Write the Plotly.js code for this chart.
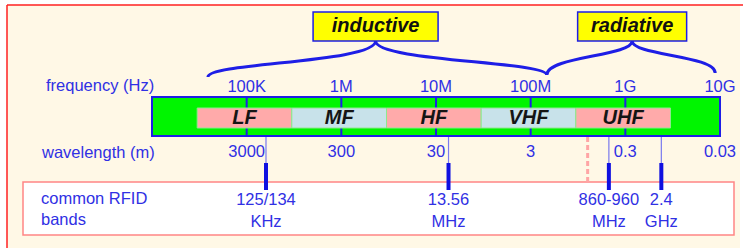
<!DOCTYPE html>
<html><head><meta charset="utf-8">
<script src="https://cdn.plot.ly/plotly-3.0.1.min.js"></script>
<style>html,body{margin:0;padding:0;background:#fff}#chart{width:743px;height:248px}</style>
</head><body><div id="chart"></div>
<script>
// ---- data ----
const freqTickHz = [1e5, 1e6, 1e7, 1e8, 1e9, 1e10];
const freqTickLabels = ['100K', '1M', '10M', '100M', '1G', '10G'];
const wavelengthLabels = ['3000', '300', '30', '3', '0.3', '0.03'];
const spectrumStartHz = 1e4;
const spectrumEndHz = 1e10;
const bandNames = ['LF', 'MF', 'HF', 'VHF', 'UHF'];
const bandLowHz = [3e4, 3e5, 3e6, 3e7, 3e8];
const bandHighHz = [3e5, 3e6, 3e7, 3e8, 3e9];
const rfidMarkHz = [1.6e5, 1.356e7, 6.7e8, 2.4e9];
const rfidLabels = ['125/134<br>KHz', '13.56<br>MHz', '860-960<br>MHz', '2.4<br>GHz'];
const boundaryHz = 4.0e8;
const regimeNames = ['inductive', 'radiative'];
const regimeStartHz = [3.9e4, 1.48e8];
const regimeCenterHz = [2.3e6, 1.18e9];
const regimeEndHz = [1.48e8, 8.9e9];

// ---- layout helpers ----
const L = Math.log10;
const W = 743, H = 248;
const pxPerDecade = 568 / 6;
const xmin = L(spectrumStartHz) - 152 / pxPerDecade;
const xmax = xmin + W / pxPerDecade;
const px2x = p => xmin + p / pxPerDecade;
const FONT = 'Liberation Sans, Arial, sans-serif';
const BLUE_TXT = '#3030E4';
const BLUE = '#1E1EE6';
const TS = 16.5;

const bandColors = ['#FFAAAA', '#C8E2EA', '#FFAAAA', '#C8E2EA', '#FFAAAA'];

const shapes = [];
// frame
shapes.push({type:'rect', xref:'paper', yref:'paper', x0:7/W, x1:740/W, y0:1-5/H, y1:-0.05,
  fillcolor:'#FFF8E6', line:{width:0}, layer:'below'});
shapes.push({type:'line', xref:'paper', yref:'paper', x0:7/W, x1:1.02, y0:1-5/H, y1:1-5/H,
  line:{color:'#FF2020', width:1.5}, layer:'below'});
shapes.push({type:'line', xref:'paper', yref:'paper', x0:7/W, x1:7/W, y0:1-5/H, y1:-0.05,
  line:{color:'#FF2020', width:1.5}, layer:'below'});

// spectrum bar
shapes.push({type:'rect', x0:L(spectrumStartHz), x1:L(spectrumEndHz), y0:97, y1:136,
  fillcolor:'#00F500', line:{color:BLUE, width:2}, layer:'below'});
freqTickHz.slice(0, -1).forEach(f => shapes.push({type:'line', x0:L(f), x1:L(f), y0:97, y1:136,
  line:{color:BLUE, width:2}, layer:'below'}));
bandNames.forEach((n, i) => shapes.push({type:'rect', x0:L(bandLowHz[i]), x1:L(bandHighHz[i]), y0:108, y1:128,
  fillcolor:bandColors[i], line:{color:'#8EE88E', width:1}, layer:'below'}));

// braces
function brace(xL, xm, xR, yBL, yBR, yT, k) {
  const cL = yBL - k * (yBL - yT), cR = yBR - k * (yBR - yT);
  return `M ${xL},${yBL} C ${xL},${cL} ${xm},${cL} ${xm},${yT} C ${xm},${cR} ${xR},${cR} ${xR},${yBR}`;
}
const braceK = [0.4, 0.55];
const braceEndY = [[77, 75], [75, 73]];
regimeNames.forEach((n, i) => shapes.push({type:'path',
  path: brace(L(regimeStartHz[i]), L(regimeCenterHz[i]), L(regimeEndHz[i]), braceEndY[i][0], braceEndY[i][1], 41, braceK[i]),
  line:{color:BLUE, width:3}, layer:'below'}));
const boxHalfPx = [62.5, 54.5];
regimeNames.forEach((n, i) => shapes.push({type:'rect',
  x0:L(regimeCenterHz[i]) - boxHalfPx[i] / pxPerDecade, x1:L(regimeCenterHz[i]) + boxHalfPx[i] / pxPerDecade,
  y0:12, y1:41, fillcolor:'#FFFF00', line:{color:BLUE, width:1.5}, layer:'below'}));

// RFID box
shapes.push({type:'rect', x0:px2x(23), x1:px2x(734), y0:182, y1:235,
  fillcolor:'#FFFFFF', line:{color:'#FF8585', width:1.5}, layer:'below'});
// boundary dashed line
shapes.push({type:'line', x0:L(boundaryHz), x1:L(boundaryHz), y0:137, y1:182,
  line:{color:'#FFA5A5', width:3, dash:'5px,3px'}, layer:'below'});
// RFID marks
rfidMarkHz.forEach(f => {
  shapes.push({type:'line', x0:L(f), x1:L(f), y0:137, y1:163, line:{color:'#7A7AEE', width:1.2}, layer:'below'});
  shapes.push({type:'line', x0:L(f), x1:L(f), y0:163, y1:190, line:{color:'#1010E0', width:4}, layer:'below'});
});

const txt = (x, y, text, font) => ({type:'scatter', mode:'text', x, y, text, textposition:'middle center',
  textfont:font, hoverinfo:'skip', showlegend:false, cliponaxis:false});

const data = [
  txt(freqTickHz.map(L), freqTickHz.map(() => 87.5), freqTickLabels, {family:FONT, size:TS, color:BLUE_TXT}),
  txt(freqTickHz.map(L), freqTickHz.map(() => 153), wavelengthLabels, {family:FONT, size:TS, color:BLUE_TXT}),
  txt(bandNames.map((n, i) => (L(bandLowHz[i]) + L(bandHighHz[i])) / 2), bandNames.map(() => 118.5), bandNames,
      {family:FONT, size:20, color:'#151515', weight:'bold', style:'italic'}),
  txt(rfidMarkHz.map(L), rfidMarkHz.map(() => 212), rfidLabels, {family:FONT, size:TS, color:BLUE_TXT}),
  txt(regimeCenterHz.map(L), regimeCenterHz.map(() => 26.5), regimeNames,
      {family:FONT, size:20, color:'#111111', weight:'bold', style:'italic'})
];

const ann = (px, y, text) => ({x:px2x(px), y, xref:'x', yref:'y', text, showarrow:false, xanchor:'left', yanchor:'middle',
  align:'left', font:{family:FONT, size:TS, color:BLUE_TXT}});

const layout = {
  width:W, height:H, margin:{l:0, r:0, t:0, b:0},
  paper_bgcolor:'#FFFFFF', plot_bgcolor:'rgba(0,0,0,0)',
  xaxis:{range:[xmin, xmax], visible:false, fixedrange:true},
  yaxis:{range:[H, 0], visible:false, fixedrange:true},
  shapes,
  annotations:[ann(44, 85, 'frequency (Hz)'), ann(39, 152, 'wavelength (m)'), ann(39, 208, 'common RFID<br>bands')],
  showlegend:false
};
Plotly.newPlot('chart', data, layout, {staticPlot:true, displayModeBar:false});
</script>
</body></html>
